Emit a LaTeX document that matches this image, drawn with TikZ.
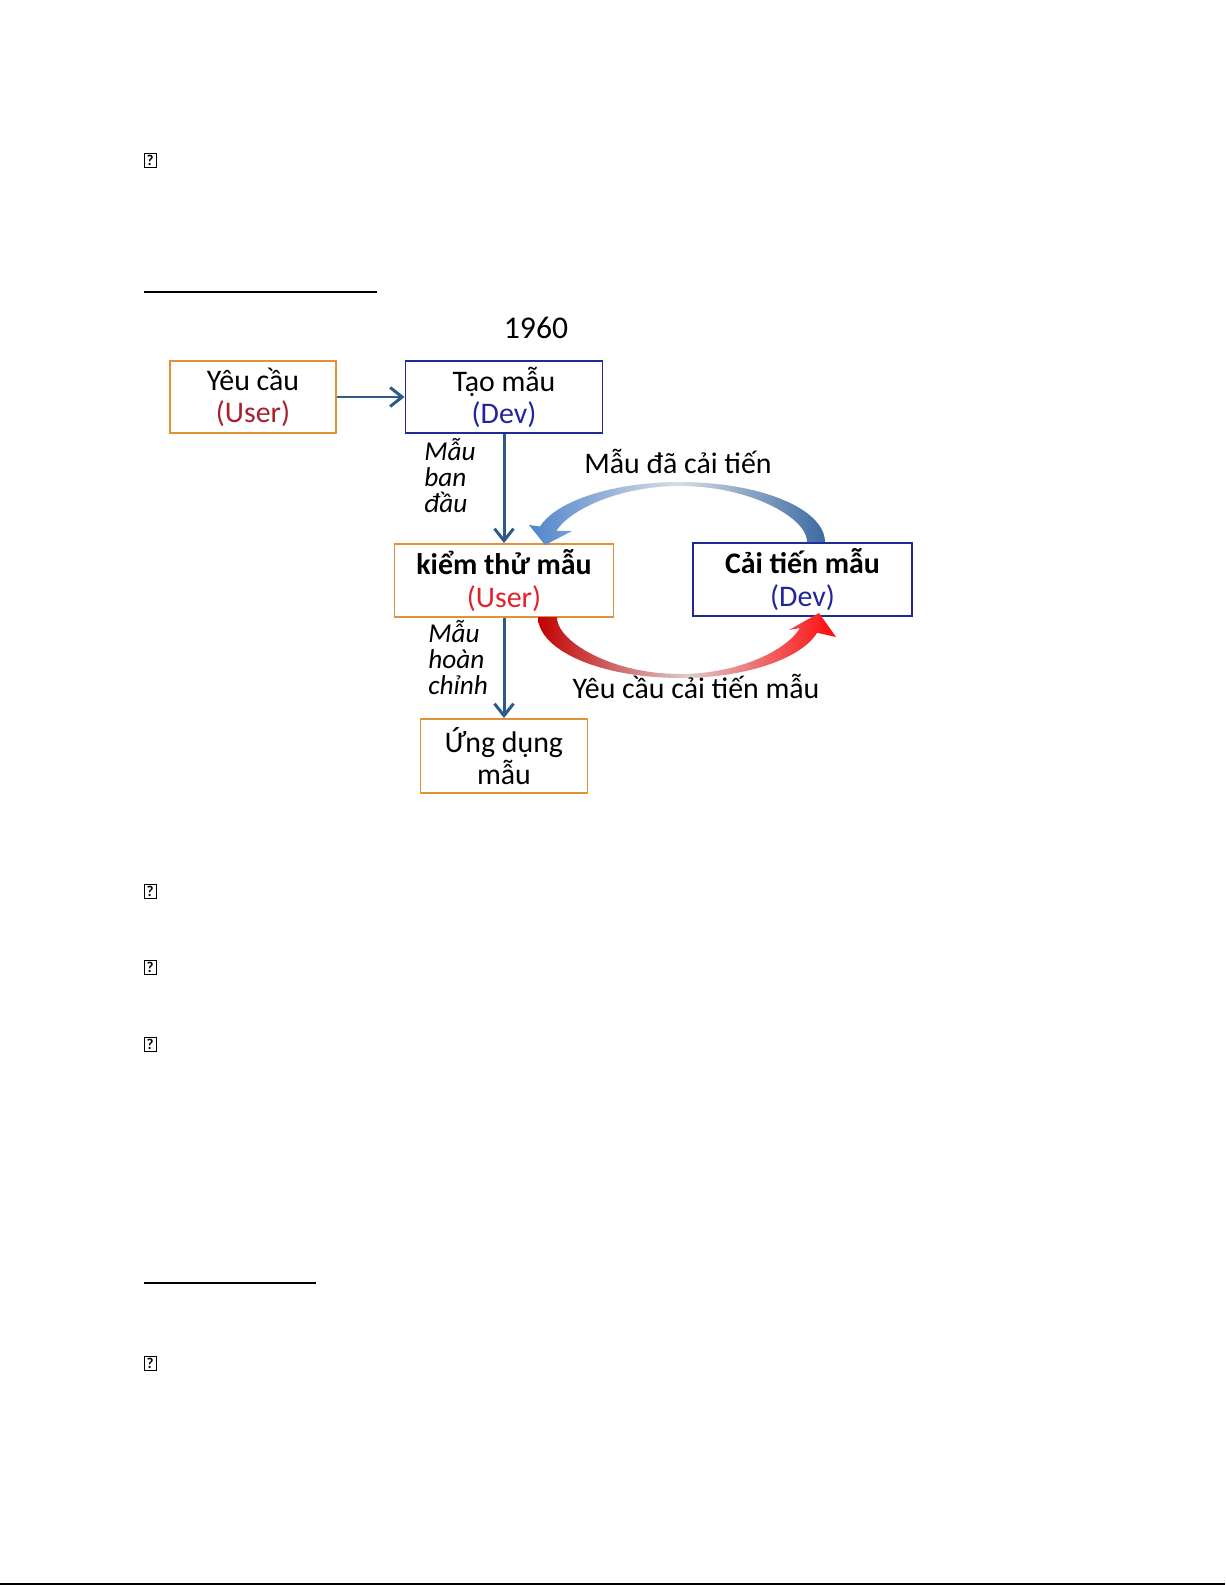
\documentclass[tikz,border=0pt]{standalone}
\usepackage{fontspec}
\setmainfont{Carlito}
\usetikzlibrary{arrows.meta}
\definecolor{boxorange}{HTML}{E0913A}
\definecolor{boxnavy}{HTML}{1F2A96}
\definecolor{userdark}{HTML}{A8202E}
\definecolor{userred}{HTML}{E3202B}
\definecolor{devblue}{HTML}{23239E}
\definecolor{flowblue}{HTML}{2E5A8A}
\definecolor{backblue}{HTML}{4F85CC}
\definecolor{backblueR}{HTML}{3B6AA2}
\definecolor{backmid}{HTML}{D8DDE4}
\definecolor{reqdark}{HTML}{C20000}
\definecolor{reqmid}{HTML}{DCCACA}
\definecolor{reqbright}{HTML}{FF0A0A}
\newcommand{\boxfont}{\fontsize{17}{18.3}\selectfont}
\newcommand{\notefont}{\fontsize{15.5}{14.8}\selectfont\itshape}
\tikzset{
  userbox/.style={draw=boxorange, line width=1.1pt, align=center, inner sep=0pt, font=\boxfont},
  devbox/.style={draw=boxnavy, line width=1.1pt, align=center, inner sep=0pt, font=\boxfont},
  flow/.style={flowblue, line width=1.7pt, -{Straight Barb[length=2.4mm,width=3.8mm]}},
  note/.style={font=\notefont, align=left, anchor=base west, inner sep=0pt},
  qbox/.style={draw, line width=0.5pt, minimum width=0.24cm, minimum height=0.28cm, inner sep=0pt, font=\fontsize{8.5}{8.5}\selectfont\bfseries}
}

\begin{document}
\begin{tikzpicture}[x=0.02cm, y=-0.02cm]
\useasboundingbox (0,0) rectangle (1225,1585);
\foreach \y [count=\i] in {160,891.5,967.5,1044.5,1363}
  \node[qbox] (q\i) at (150,\y) {?};
\draw[line width=1.1pt] (144,292) -- (377,292);
\draw[line width=1.1pt] (144,1283) -- (316,1283);
\draw[line width=0.9pt] (0,1584) -- (1225,1584);
\node[font=\fontsize{18}{18}\selectfont, anchor=base] (year) at (536,338) {1960};
\node[userbox, minimum width=3.32cm, minimum height=1.44cm] (yeucau) at (253,397) {Yêu cầu\\\textcolor{userdark}{(User)}};
\node[devbox, minimum width=3.94cm, minimum height=1.44cm] (taomau) at (504,397) {Tạo mẫu\\\textcolor{devblue}{(Dev)}};
\node[userbox, minimum width=4.38cm, minimum height=1.46cm] (kiemthu) at (504,580.5) {\textbf{kiểm thử mẫu}\\\textcolor{userred}{(User)}};
\node[devbox, minimum width=4.38cm, minimum height=1.46cm] (caitien) at (802.5,579.5) {\textbf{Cải tiến mẫu}\\\textcolor{devblue}{(Dev)}};
\node[userbox, minimum width=3.34cm, minimum height=1.48cm] (ungdung) at (504,756) {Ứng dụng\\mẫu};
\draw[flow] (yeucau.east) -- (taomau.west);
\draw[flow] (taomau.south) -- (kiemthu.north);
\draw[flow] (kiemthu.south) -- (ungdung.north);
\node[note] (bandau) at (424,512) {Mẫu\\ban\\đầu};
\node[note] (hoanchinh) at (428,694) {Mẫu\\hoàn\\chỉnh};
\shade[left color=backblue, right color=backblueR, middle color=backmid]
  plot[domain=0:165, samples=40] ({680+145*cos(\x)},{542-60*sin(\x)})
  -- (529,525) -- (545,545) -- (572,531)
  -- plot[domain=165:0, samples=40] ({680+(141-14*cos(\x)*cos(\x))*cos(\x)},{542-(56-14*cos(\x)*cos(\x))*sin(\x)})
  -- cycle;
\shade[left color=reqdark, right color=reqbright, middle color=reqmid]
  plot[domain=180:15, samples=40] ({680+142*cos(\x)},{617+61*sin(\x)})
  -- (836,637) -- (819,613) -- (789,630)
  -- plot[domain=15:180, samples=40] ({680+(138-15*cos(\x)*cos(\x))*cos(\x)},{617+(57-15*cos(\x)*cos(\x))*sin(\x)})
  -- cycle;
\node[font=\boxfont, anchor=base] (daicaitien) at (678,473) {Mẫu đã cải tiến};
\node[font=\boxfont, anchor=base] (yeucaucaitien) at (696,698) {Yêu cầu cải tiến mẫu};
\end{tikzpicture}
\end{document}
